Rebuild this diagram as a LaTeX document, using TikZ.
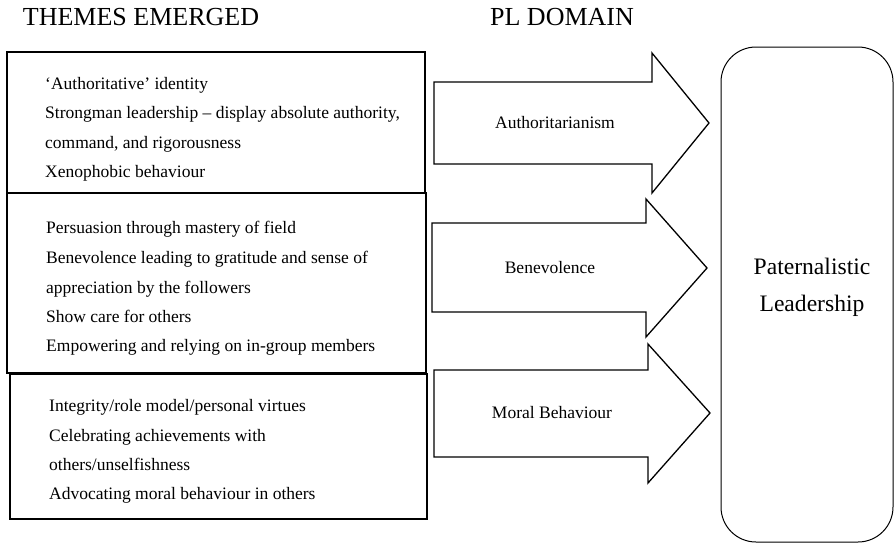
\documentclass[tikz,border=0pt]{standalone}
\usepackage{fontspec}
\setmainfont{Liberation Serif}
\usetikzlibrary{positioning,calc}

\begin{document}
\begin{tikzpicture}[x=1pt, y=-1pt,
    heading/.style={font=\fontsize{26}{30}\selectfont, inner sep=0pt},
    theme/.style={anchor=base west, font=\fontsize{17.5}{21}\selectfont, inner sep=0pt},
    domainlabel/.style={font=\fontsize{17.5}{21}\selectfont, inner sep=0pt},
    themebox/.style={draw, line width=1.5pt},
    bigarrow/.style={draw, line width=1.3pt, line join=miter}]
    \useasboundingbox (0,0) rectangle (895,544);

    % Headings
    \node[heading] (themes) at (141,17) {THEMES EMERGED};
    \node[heading] (pldomain) at (562,17) {PL DOMAIN};

    % Authoritarianism themes
    \draw[themebox] (7,52) rectangle (425,193);
    \node[theme] (a1) at (45,89) {`Authoritative' identity};
    \node[theme] (a2) at (45,118) {Strongman leadership -- display absolute authority,};
    \node[theme] (a3) at (45,148) {command, and rigorousness};
    \node[theme] (a4) at (45,177) {Xenophobic behaviour};

    % Benevolence themes
    \draw[themebox] (7,193) rectangle (426,373);
    \node[theme] (b1) at (46,233) {Persuasion through mastery of field};
    \node[theme] (b2) at (46,263) {Benevolence leading to gratitude and sense of};
    \node[theme] (b3) at (46,293) {appreciation by the followers};
    \node[theme] (b4) at (46,322) {Show care for others};
    \node[theme] (b5) at (46,351) {Empowering and relying on in-group members};

    % Moral behaviour themes
    \draw[themebox] (10,374) rectangle (427,519);
    \node[theme] (m1) at (49,411) {Integrity/role model/personal virtues};
    \node[theme] (m2) at (49,441) {Celebrating achievements with};
    \node[theme] (m3) at (49,470) {others/unselfishness};
    \node[theme] (m4) at (49,499) {Advocating moral behaviour in others};

    % PL domain arrows
    \draw[bigarrow] (434,82) -- (652,82) -- (652,53) -- (709,123)
        -- (652,193) -- (652,164) -- (434,164) -- cycle;
    \node[domainlabel] (auth) at (555,123) {Authoritarianism};

    \draw[bigarrow] (432,223) -- (646,223) -- (646,199) -- (707,268)
        -- (646,337) -- (646,312) -- (432,312) -- cycle;
    \node[domainlabel] (bene) at (550,268) {Benevolence};

    \draw[bigarrow] (434,370) -- (648,370) -- (648,344) -- (710,413)
        -- (648,483) -- (648,457) -- (434,457) -- cycle;
    \node[domainlabel] (moral) at (552,413) {Moral Behaviour};

    % Paternalistic leadership
    \draw[line width=1pt, rounded corners=35pt] (721,47) rectangle (893,542);
    \node[font=\fontsize{23.6}{37}\selectfont, align=center, inner sep=0pt] (pl)
        at (812,287) {Paternalistic\\Leadership};
\end{tikzpicture}
\end{document}
